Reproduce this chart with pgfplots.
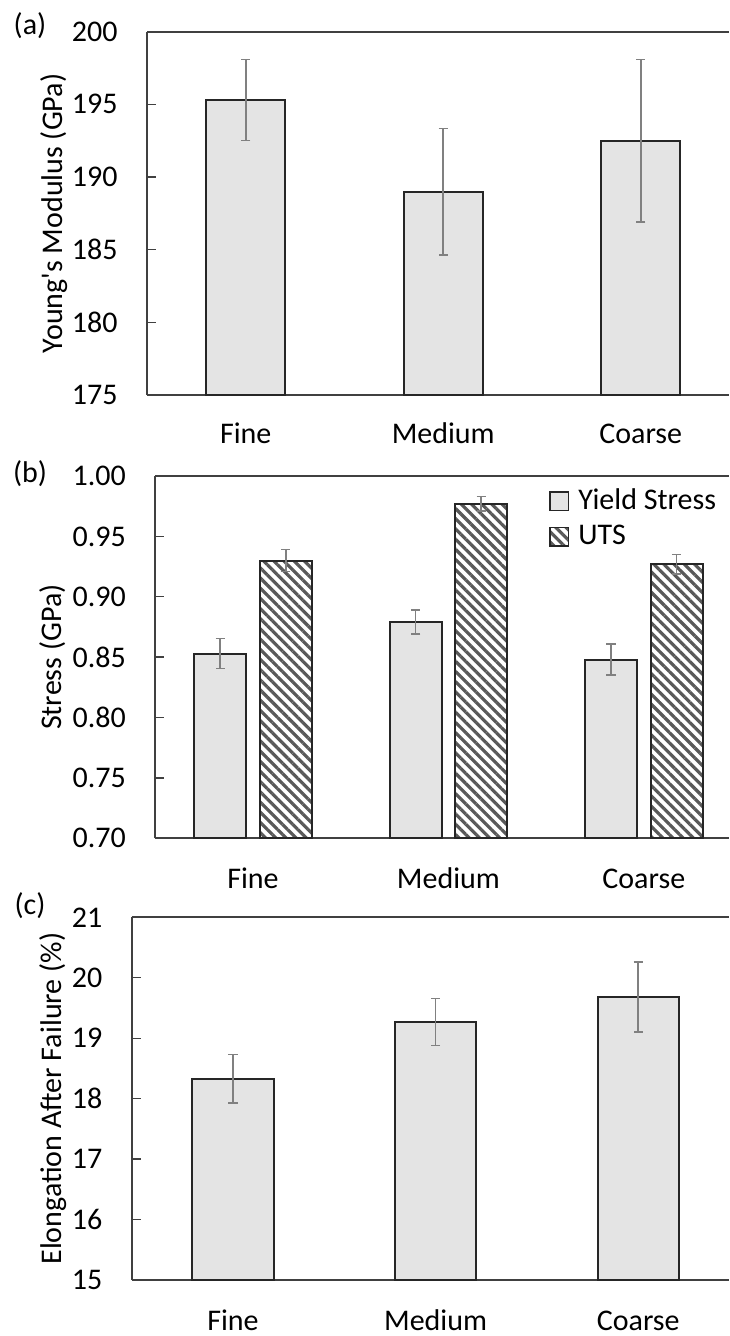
\documentclass[border=0pt]{standalone}
\usepackage{fontspec}
\setmainfont{Carlito}
\usepackage{pgfplots}
\pgfplotsset{compat=1.18}
\usetikzlibrary{patterns.meta}
\definecolor{barfill}{HTML}{E4E4E4}
\definecolor{axiscol}{HTML}{404040}
\definecolor{edgecol}{HTML}{262626}
\definecolor{errcol}{HTML}{808080}
\definecolor{hatchcol}{HTML}{595959}
\pgfplotsset{
  panel/.style={
    scale only axis,
    axis y line*=left,
    axis line style={color=axiscol, line width=0.9pt},
    tick align=inside,
    major tick length=4.5pt,
    xtick style={draw=none},
    ytick style={color=axiscol, line width=0.7pt},
    xmin=-0.5,
    xtick={0,1,2},
    xticklabels={Fine,Medium,Coarse},
    /pgf/number format/assume math mode=true,
    yticklabel style={anchor=east, inner sep=0pt, xshift=-14.5pt},
    every axis y label/.style={rotate=90, anchor=center},
    ybar,
    every axis plot/.append style={draw=edgecol, line width=1pt,
      error bars/y dir=both, error bars/y explicit,
      error bars/error bar style={color=errcol, line width=0.8pt},
      error bars/error mark options={rotate=90, color=errcol, mark size=2.3pt, line width=0.8pt}},
  },
}
\begin{document}
\fontsize{15pt}{18pt}\selectfont
\begin{tikzpicture}
\path[use as bounding box] (0,0) rectangle (364.5pt,-668pt);
% (a)
\begin{axis}[panel,
  at={(73.5pt,-197.5pt)}, anchor=south west,
  width=291pt, height=181.65pt,
  xmax=2.447, ymin=175, ymax=200, ytick={175,180,...,200},
  bar width=0.4,
  xticklabel style={anchor=base, inner sep=0pt, yshift=-19.5pt},
  ylabel={Young\textquotesingle s Modulus (GPa)},
  every axis y label/.append style={at={(rel axis cs:-0.159,0.5)}},
]
\addplot[fill=barfill] coordinates {(0,195.3) +- (0,2.8) (1,189.0) +- (0,4.35) (2,192.5) +- (0,5.6)};
\end{axis}
% (b)
\begin{axis}[panel,
  at={(77.65pt,-419.15pt)}, anchor=south west,
  width=286.85pt, height=181.15pt,
  xmax=2.436, ymin=0.70, ymax=1.00, ytick={0.70,0.75,...,1.00},
  yticklabel style={/pgf/number format/.cd, fixed, fixed zerofill, precision=2},
  bar width=0.266,
  xticklabel style={anchor=base, inner sep=0pt, yshift=-20.4pt},
  ylabel={Stress (GPa)},
  every axis y label/.append style={at={(rel axis cs:-0.1790,0.5)}},
  legend style={at={(rel axis cs:0.686,0.978)}, anchor=north west, draw=none, fill=none,
    inner sep=0pt, row sep=1.5pt, nodes={inner sep=2pt}},
  legend cell align=left,
  legend image code/.code={\draw[#1, line width=0.7pt] (0pt,-4.6pt) rectangle (9.4pt,4.6pt);},
]
\addplot[fill=barfill, bar shift=-0.1676] coordinates {(0,0.853) +- (0,0.0125) (1,0.879) +- (0,0.010) (2,0.848) +- (0,0.013)};
\addlegendentry{\hspace{2.5pt}Yield Stress}
\addplot[fill=white, pattern={Lines[angle=-45, distance=3.6pt, line width=1.6pt]}, pattern color=hatchcol, bar shift=0.1676] coordinates {(0,0.930) +- (0,0.009) (1,0.977) +- (0,0.006) (2,0.927) +- (0,0.008)};
\addlegendentry{\hspace{2.5pt}UTS}
\end{axis}
% (c)
\begin{axis}[panel,
  at={(65.85pt,-640pt)}, anchor=south west,
  width=298.65pt, height=181.35pt,
  xmax=2.448, ymin=15, ymax=21, ytick={15,16,...,21},
  bar width=0.4,
  xticklabel style={anchor=base, inner sep=0pt, yshift=-20.5pt},
  ylabel={Elongation After Failure (\%)},
  every axis y label/.append style={at={(rel axis cs:-0.1318,0.5)}},
]
\addplot[fill=barfill] coordinates {(0,18.33) +- (0,0.40) (1,19.27) +- (0,0.39) (2,19.68) +- (0,0.58)};
\end{axis}
\node at (15pt,-13pt) {(a)};
\node at (15pt,-237pt) {(b)};
\node at (15pt,-453pt) {(c)};
\end{tikzpicture}
\end{document}
